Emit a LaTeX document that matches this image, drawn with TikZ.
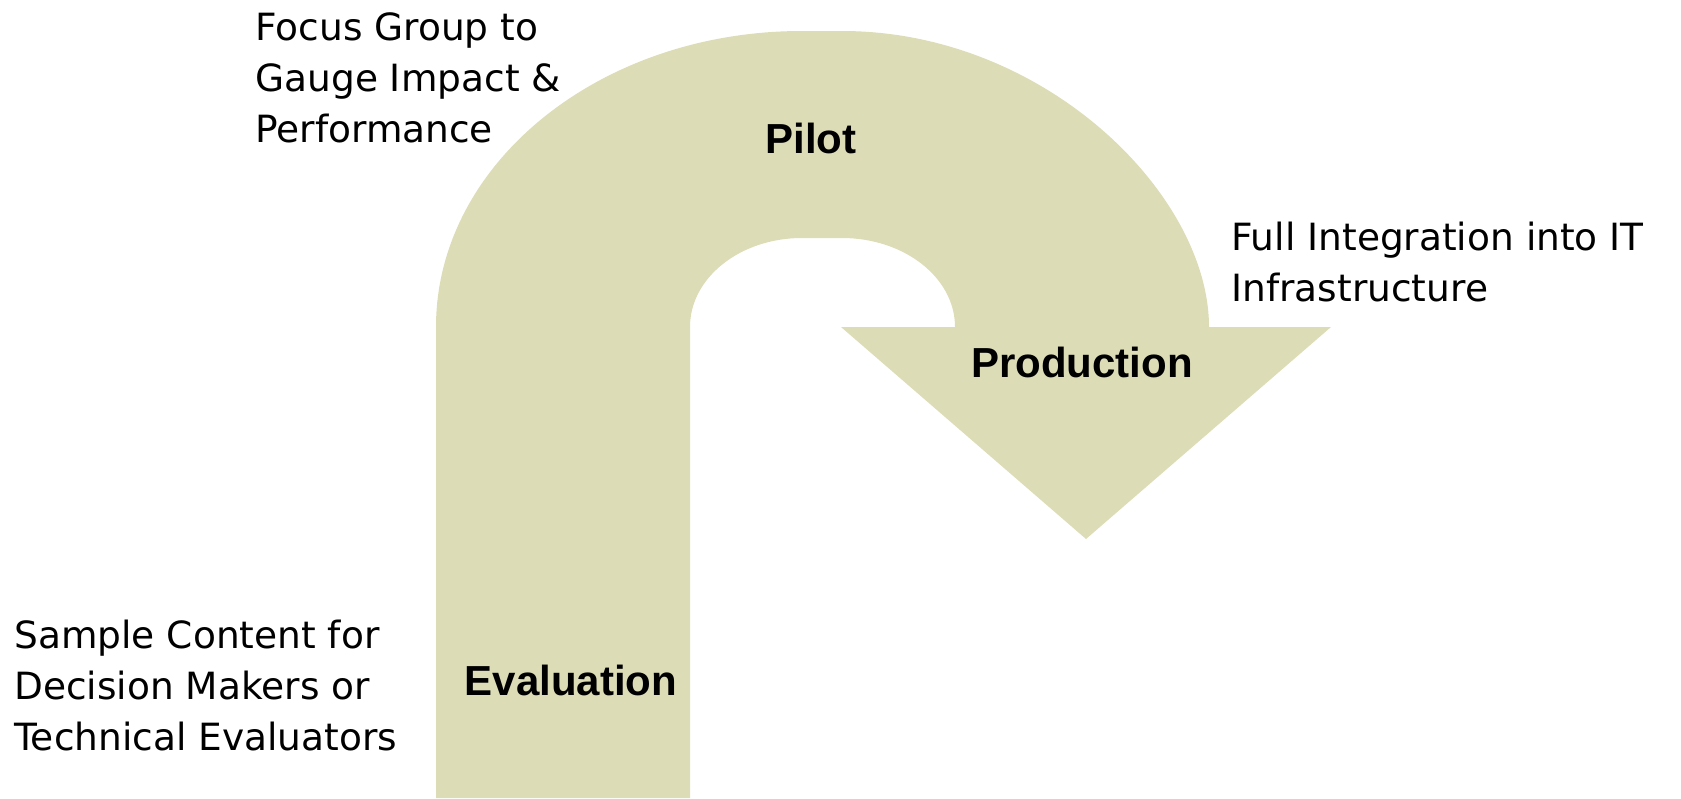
\documentclass[tikz,border=0pt]{standalone}
\usepackage{fontspec}
\setmainfont{DejaVu Sans}
\newfontfamily\stagefont{Liberation Sans}
\usepackage{xcolor}
\definecolor{uturn}{RGB}{220,220,183}

\begin{document}
\begin{tikzpicture}[
    x=0.5pt, y=-0.5pt,
    note/.style={anchor=base west, align=left, inner sep=0pt, font=\fontsize{18.75}{25.5}\selectfont},
    stage/.style={anchor=base, inner sep=0pt, font=\stagefont\bfseries\fontsize{21}{25}\selectfont},
    arrowbody/.style={fill=uturn, draw=none}
    ]
    \useasboundingbox (0,0) rectangle (1681,798);

    % u-turn arrow
    \path [arrowbody] (436,798) -- (436,327)
        .. controls (436,163.5) and (599.9,31) .. (802,31) -- (842,31)
        .. controls (1044.7,31) and (1209,194.5) .. (1209,327)
        -- (1331,327) -- (1086,539) -- (841,327) -- (955,327)
        .. controls (955,277.8) and (904.4,238) .. (842,238) -- (802,238)
        .. controls (740.1,238) and (690,277.8) .. (690,327)
        -- (690,798) -- cycle;

    \node [stage] (pilot) at (811,153) {Pilot};
    \node [stage] (production) at (1082,377) {Production};
    \node [stage] (evaluation) at (571,695) {Evaluation};

    % notes, placed at the baseline of their last line
    \node [note] (focus) at (255,142) {Focus Group to\\Gauge Impact \&\\Performance};
    \node [note] (sample) at (14,750) {Sample Content for\\Decision Makers or\\Technical Evaluators};
    \node [note] (integration) at (1231,301) {Full Integration into IT\\Infrastructure};
\end{tikzpicture}
\end{document}
